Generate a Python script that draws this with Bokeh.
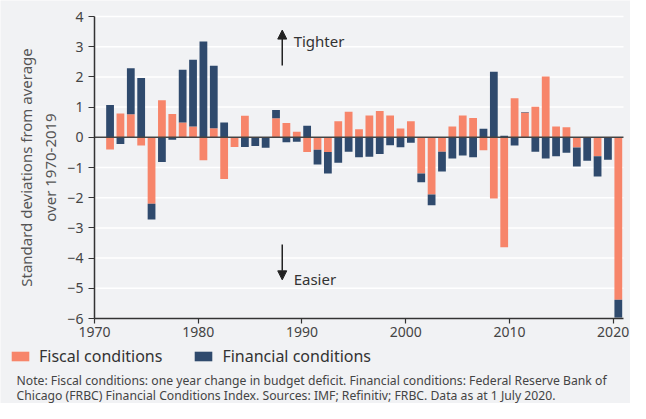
import numpy as np
from bokeh.plotting import figure
from bokeh.models import (ColumnDataSource, Label, Arrow, NormalHead,
                          FixedTicker, Legend, LegendItem, LinearAxis)
from bokeh.embed import file_html
from bokeh.resources import INLINE

years = list(range(1971, 2021))
fiscal = [-0.40, 0.79, 0.76, -0.27, -2.20, 1.23, 0.77, 0.49, 0.36, -0.76,
          0.30, -1.38, -0.32, 0.71, 0.00, 0.00, 0.63, 0.47, 0.18, -0.49,
          -0.41, -0.49, 0.53, 0.85, 0.27, 0.72, 0.87, 0.72, 0.29, 0.53,
          -1.20, -1.89, -0.48, 0.36, 0.72, 0.64, -0.43, -2.03, -3.64, 1.29,
          0.82, 1.01, 2.01, 0.36, 0.33, -0.34, 0.00, -0.63, 0.00, -5.38]
financial = [1.07, -0.22, 1.53, 1.96, -0.52, -0.82, -0.08, 1.75, 2.21, 3.17,
             2.07, 0.49, 0.00, -0.32, -0.29, -0.35, 0.27, -0.16, -0.15, 0.38,
             -0.49, -0.71, -0.84, -0.48, -0.66, -0.64, -0.55, -0.26, -0.33, -0.18,
             -0.29, -0.36, -0.65, -0.70, -0.60, -0.66, 0.28, 2.17, 0.05, -0.27,
             0.02, -0.48, -0.70, -0.63, -0.51, -0.63, -0.78, -0.67, -0.74, -0.59]
y_ticks = [-6, -5, -4, -3, -2, -1, 0, 1, 2, 3, 4]
x_ticks = [1970, 1980, 1990, 2000, 2010, 2020]
series_names = ["Fiscal conditions", "Financial conditions"]
note_lines = ["Note: Fiscal conditions: one year change in budget deficit. Financial conditions: Federal Reserve Bank of",
              "Chicago (FRBC) Financial Conditions Index. Sources: IMF; Refinitiv; FRBC. Data as at 1 July 2020."]

FONT = "Noto Sans"
ORANGE = "#f7856a"
NAVY = "#2f4a6d"
BG = "#f1f2f4"

W, H = 630, 403
X0, X1 = 1970, 2021          # extent of the x axis
Y0, Y1 = -6, 4               # extent of the y axis
AX_LEFT, AX_RIGHT = 94, 623  # pixel positions of the axes box inside the canvas
AX_TOP, AX_BOTTOM = 16, 318
sx = (AX_RIGHT - AX_LEFT) / (X1 - X0)
sy = (AX_BOTTOM - AX_TOP) / (Y1 - Y0)
x_range = (X0 - AX_LEFT / sx, X0 + (W - AX_LEFT) / sx)
y_range = (Y1 - (H - AX_TOP) / sy, Y1 + AX_TOP / sy)

fis = np.array(fiscal)
fin = np.array(financial)
xs = np.array(years) + 0.5
fin_base = np.where(np.sign(fin) == np.sign(fis), fis, 0.0)

src_f = ColumnDataSource(dict(x=xs, bottom=np.zeros_like(fis), top=fis))
src_n = ColumnDataSource(dict(x=xs, bottom=fin_base, top=fin_base + fin))

p = figure(width=W, height=H, output_backend="svg", toolbar_location=None,
           x_range=x_range, y_range=y_range, x_axis_type=None, y_axis_type=None,
           min_border=0)
p.background_fill_color = BG
p.border_fill_color = BG
p.outline_line_color = None
p.grid.visible = False

# horizontal gridlines limited to the axes box
p.segment(x0=[X0] * len(y_ticks), x1=[X1] * len(y_ticks), y0=y_ticks, y1=y_ticks,
          line_color="white", line_width=1.5)

rf = p.vbar(x="x", bottom="bottom", top="top", width=0.75, source=src_f,
            fill_color=ORANGE, line_color=None)
rn = p.vbar(x="x", bottom="bottom", top="top", width=0.75, source=src_n,
            fill_color=NAVY, line_color=None)

# zero line
p.segment(x0=[X0], x1=[X1], y0=[0], y1=[0], line_color="#444444", line_width=1.5)

xaxis = LinearAxis(fixed_location=Y0, bounds=(X0, X1), ticker=FixedTicker(ticks=x_ticks))
yaxis = LinearAxis(fixed_location=X0, bounds=(Y0, Y1), ticker=FixedTicker(ticks=y_ticks))
for ax in (xaxis, yaxis):
    ax.axis_line_color = "#333333"
    ax.axis_line_width = 1.5
    ax.major_tick_line_color = "#333333"
    ax.major_tick_line_width = 1.2
    ax.major_tick_in = 0
    ax.minor_tick_line_color = None
    ax.major_label_text_font = FONT
    ax.major_label_text_font_size = "14px"
    ax.major_label_text_color = "#444444"
xaxis.major_tick_out = 5
xaxis.major_label_standoff = 3
yaxis.major_tick_out = 6
yaxis.major_label_standoff = 5
yaxis.axis_label = "Standard deviations from average\nover 1970-2019"
yaxis.axis_label_text_font = FONT
yaxis.axis_label_text_font_size = "15px"
yaxis.axis_label_text_font_style = "normal"
yaxis.axis_label_text_color = "#555555"
yaxis.axis_label_standoff = 4
p.add_layout(xaxis, "below")
p.add_layout(yaxis, "left")

head_up = NormalHead(size=9, fill_color="#222222", line_color="#222222")
head_dn = NormalHead(size=9, fill_color="#222222", line_color="#222222")
p.add_layout(Arrow(x_start=1988.1, y_start=2.38, x_end=1988.1, y_end=3.55,
                   end=head_up, line_color="#222222", line_width=1.5))
p.add_layout(Arrow(x_start=1988.1, y_start=-3.55, x_end=1988.1, y_end=-4.72,
                   end=head_dn, line_color="#222222", line_width=1.5))
p.add_layout(Label(x=1989.2, y=3.19, text="Tighter", text_font=FONT,
                   text_font_size="15px", text_color="#333333", text_baseline="alphabetic"))
p.add_layout(Label(x=1989.2, y=-4.69, text="Easier", text_font=FONT,
                   text_font_size="15px", text_color="#333333", text_baseline="alphabetic"))

legend = Legend(items=[LegendItem(label=series_names[0], renderers=[rf]),
                       LegendItem(label=series_names[1], renderers=[rn])],
                location=(9, 36), orientation="horizontal",
                glyph_width=22, glyph_height=12, label_standoff=8, spacing=30,
                padding=0, margin=0, border_line_color=None, background_fill_alpha=0,
                label_text_font=FONT, label_text_font_size="16px", label_text_color="#333333")
p.add_layout(legend, "center")

for i, line in enumerate(note_lines):
    p.add_layout(Label(x=16, y=23 - 15 * i, x_units="screen", y_units="screen",
                       text=line, text_font=FONT, text_font_size="12.2px",
                       text_color="#444444", text_baseline="middle"))

open("out.html", "w").write(file_html(p, INLINE))
